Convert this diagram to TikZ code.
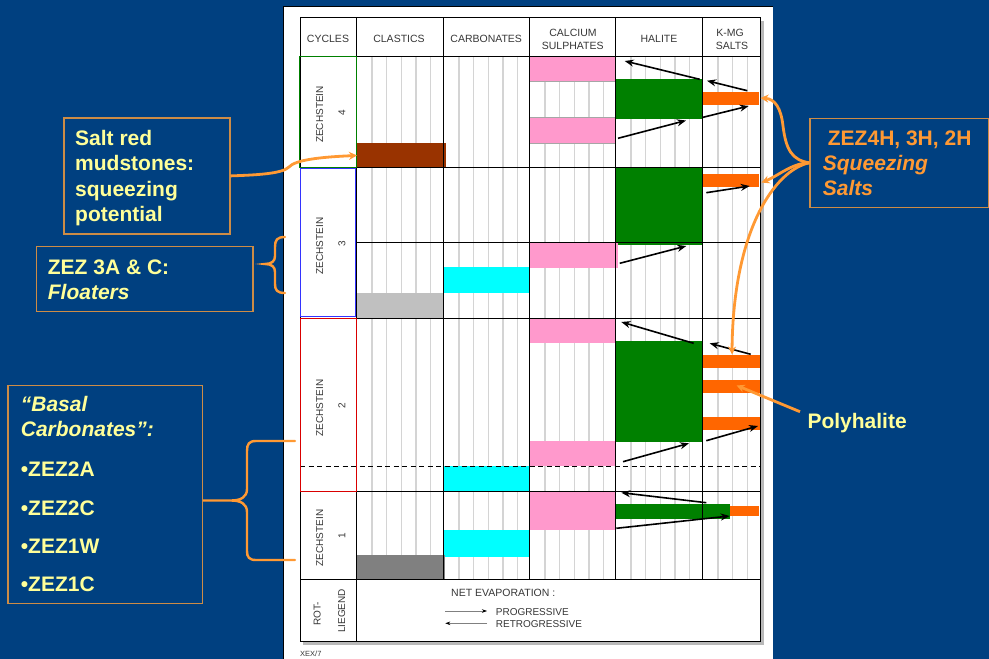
\documentclass[tikz,border=0pt]{standalone}
\usepackage{fontspec}
\setmainfont{Liberation Sans}
\usetikzlibrary{arrows.meta}

\definecolor{slide}{RGB}{0,64,128}
\definecolor{tabtext}{RGB}{55,55,55}
\definecolor{noteyellow}{RGB}{255,255,153}
\definecolor{noteedge}{RGB}{205,140,70}
\definecolor{calloutorange}{RGB}{255,153,51}
\definecolor{sulphpink}{RGB}{255,153,204}
\definecolor{halitegreen}{RGB}{0,128,0}
\definecolor{kmgorange}{RGB}{255,102,0}
\definecolor{mudbrown}{RGB}{153,51,0}
\definecolor{carbcyan}{RGB}{0,255,255}
\definecolor{clastlight}{RGB}{192,192,192}
\definecolor{clastdark}{RGB}{128,128,128}
\definecolor{gridgray}{RGB}{212,212,212}

\begin{document}
\begin{tikzpicture}[x=1pt,y=-1pt,
  tabline/.style={black,line width=0.9pt},
  gridline/.style={gridgray,line width=1.4pt},
  hdr/.style={font=\fontsize{10.5}{12}\selectfont,text=tabtext,inner sep=0pt,anchor=base},
  cyc/.style={font=\fontsize{10}{12}\selectfont,text=tabtext,inner sep=0pt,rotate=90},
  lgd/.style={font=\fontsize{10}{12}\selectfont,text=tabtext,inner sep=0pt,anchor=base west},
  notebox/.style={draw=noteedge,line width=1.2pt,inner sep=0pt,anchor=north west},
  notetxt/.style={font=\fontsize{21}{25}\selectfont\bfseries,text=noteyellow,inner sep=0pt,anchor=base west},
  squeezetxt/.style={font=\fontsize{21}{25}\selectfont\bfseries,text=calloutorange,inner sep=0pt,anchor=base west},
  evarrow/.style={black,line width=1.6pt,-{Stealth[length=9pt,width=7pt]}},
  lgarrow/.style={gray,line width=0.6pt,-{Stealth[length=5pt,width=3.5pt,black]}},
  callout/.style={calloutorange,line width=2.8pt,-{Stealth[length=8pt,width=8pt]}},
  brace/.style={calloutorange,line width=2.4pt,line cap=round}]

\useasboundingbox (0,0) rectangle (989,659);
\fill[slide] (0,0) rectangle (989,659);

% ---- the printed sheet ----
\fill[white] (283.3,6) rectangle (773.3,662);
\draw[black,line width=0.8pt] (283.3,662) -- (283.3,6) -- (773.3,6);

% table shadow and body
\fill[gray!55] (303,20.5) rectangle (763.5,644.5);
\fill[white] (300,17.3) rectangle (760,641);

% light vertical grid inside the data columns
\foreach \cl/\m in {356/5,443/5,529/5,615/5,702/3}
  \foreach \k in {1,...,\m}
    \draw[gridline] ({\cl+14.6*\k+1.5},56) -- ({\cl+14.6*\k+1.5},579);

% ---- lithology blocks ----
% Zechstein 4
\fill[sulphpink,draw=gray!70,line width=0.4pt] (529,56) rectangle (615,81);
\fill[sulphpink,draw=gray!70,line width=0.4pt] (529,117) rectangle (615,143);
\fill[halitegreen] (615,79) rectangle (702,119.3);
\fill[kmgorange] (702,92) rectangle (759,105.3);
\fill[mudbrown] (357,143) rectangle (445.5,167);
% Zechstein 3
\fill[halitegreen] (615,168) rectangle (703,245);
\fill[kmgorange] (702,174) rectangle (759,187.3);
\fill[sulphpink] (530,242) rectangle (618,268);
\fill[carbcyan] (444,267) rectangle (529,293.3);
\fill[clastlight] (356,293.3) rectangle (443,318);
% Zechstein 2
\fill[sulphpink] (529,318) rectangle (615,343.3);
\fill[halitegreen] (616.3,340.7) rectangle (702.3,442);
\fill[kmgorange] (702,355) rectangle (760,367.7);
\fill[kmgorange] (702,380) rectangle (760,393.3);
\fill[kmgorange] (702,417) rectangle (760,430);
\fill[sulphpink] (529,441) rectangle (616,466);
\fill[carbcyan] (444,466) rectangle (529,491.5);
% Zechstein 1
\fill[sulphpink] (529,491.7) rectangle (616,530);
\fill[halitegreen] (616.3,504) rectangle (729.7,519);
\fill[kmgorange] (729.7,506) rectangle (759,516);
\fill[carbcyan] (444,530) rectangle (529,556.7);
\fill[clastdark] (356,555) rectangle (445,579);

% ---- table ruling ----
\draw[tabline] (300,17.3) rectangle (760,641);
\draw[tabline] (300,56) -- (760,56);
\draw[tabline] (356,17.3) -- (356,641);
\foreach \x in {443,529,615,702} \draw[tabline] (\x,17.3) -- (\x,579);
\draw[tabline] (300,167.5) -- (760,167.5);
\draw[tabline] (356,242) -- (760,242);
\draw[tabline] (300,318) -- (760,318);
\draw[tabline] (300,491.5) -- (760,491.5);
\draw[tabline] (300,579) -- (760,579);
\draw[black,line width=1.5pt,dash pattern=on 5pt off 3.5pt] (300,466.7) -- (760,466.7);

% coloured frames of the cycle cells
\draw[halitegreen,line width=0.9pt] (299.5,56.5) rectangle (356,167);
\draw[blue!80,line width=0.9pt] (300,168.3) rectangle (355.5,316.7);
\draw[red!85!black,line width=0.9pt] (300,318.5) rectangle (356,491);

% ---- header ----
\node[hdr] (hcyc) at (328,42.3) {CYCLES};
\node[hdr] (hcla) at (399,42.3) {CLASTICS};
\node[hdr] (hcar) at (486.2,42.3) {CARBONATES};
\node[hdr] (hcal1) at (573,36) {CALCIUM};
\node[hdr] (hcal2) at (572.7,49) {SULPHATES};
\node[hdr] (hhal) at (659,42.3) {HALITE};
\node[hdr] (hkmg1) at (730,36) {K-MG};
\node[hdr] (hkmg2) at (732,49) {SALTS};

% ---- cycle labels ----
\node[cyc] (z4a) at (319.7,114.5) {ZECHSTEIN};
\node[cyc] (z4b) at (342,113) {4};
\node[cyc] (z3a) at (319.7,246) {ZECHSTEIN};
\node[cyc] (z3b) at (342,244) {3};
\node[cyc] (z2a) at (319.7,408) {ZECHSTEIN};
\node[cyc] (z2b) at (342,405.5) {2};
\node[cyc] (z1a) at (319.7,538) {ZECHSTEIN};
\node[cyc] (z1b) at (342,536) {1};
\node[cyc] (rl1) at (317.3,614) {ROT-};
\node[cyc] (rl2) at (341.7,611) {LIEGEND};

% ---- net evaporation arrows ----
\foreach \i/\xa/\ya/\xb/\yb in {
    1/699.7/79.3/624.7/61,
    2/747.3/90.7/707/80.7,
    3/618/138.3/686/120.5,
    4/703/117.3/748.7/106,
    5/706.3/192.7/749.7/186,
    6/619.7/263.3/686.3/246,
    7/693.7/343.3/621.3/322,
    8/750.7/354.3/709.7/343.3,
    9/706.3/440.7/758/426,
    10/623/461.7/689/443.3,
    11/706.3/502.7/621.3/492.7,
    12/616.3/528.3/729.7/516} {
  \coordinate (ev\i a) at (\xa,\ya);
  \coordinate (ev\i b) at (\xb,\yb);
  \draw[evarrow] (ev\i a) -- (ev\i b);
}

% ---- legend ----
\node[font=\fontsize{10.5}{12}\selectfont,text=tabtext,inner sep=0pt,anchor=base west] (netev) at (451,596.7) {NET EVAPORATION :};
\coordinate (lgpa) at (445.3,611);
\coordinate (lgpb) at (487,611);
\coordinate (lgra) at (487,623.3);
\coordinate (lgrb) at (445.3,623.3);
\draw[lgarrow] (lgpa) -- (lgpb);
\draw[lgarrow] (lgra) -- (lgrb);
\node[lgd] (lgprog) at (495.7,615) {PROGRESSIVE};
\node[lgd] (lgretro) at (495.7,627.7) {RETROGRESSIVE};
\node[font=\fontsize{7.5}{9}\selectfont,text=tabtext,inner sep=0pt,anchor=base west] (sheetref) at (300,656.5) {XEX/7};

% ---- notes on the left ----
\node[notebox,minimum width=166pt,minimum height=116pt] (saltbox) at (63.3,117.3) {};
\node[notetxt] (salt1) at (75,145) {Salt red};
\node[notetxt] (salt2) at (75,170.5) {mudstones:};
\node[notetxt] (salt3) at (75,196) {squeezing};
\node[notetxt] (salt4) at (75,221.5) {potential};

\node[notebox,minimum width=216.6pt,minimum height=65pt] (floatbox) at (35.7,246) {};
\node[notetxt] (float1) at (47.7,274.5) {ZEZ 3A \& C:};
\node[notetxt] (float2) at (47.7,299.5) {\itshape Floaters};

\node[notebox,minimum width=194.4pt,minimum height=217.7pt] (basalbox) at (7.3,385) {};
\node[notetxt] (basal1) at (20.7,411.7) {\itshape “Basal};
\node[notetxt] (basal2) at (20.7,436.7) {\itshape Carbonates”:};
\node[notetxt] (basal3) at (20.7,476) {•ZEZ2A};
\node[notetxt] (basal4) at (20.7,515) {•ZEZ2C};
\node[notetxt] (basal5) at (20.7,553.3) {•ZEZ1W};
\node[notetxt] (basal6) at (20.7,591.7) {•ZEZ1C};

% ---- notes on the right ----
\node[notebox,minimum width=179pt,minimum height=89pt] (squeezebox) at (809.3,117.7) {};
\node[squeezetxt] (sq1) at (827.7,145) {ZEZ4H, 3H, 2H};
\node[squeezetxt] (sq2) at (822.7,170) {\itshape Squeezing};
\node[squeezetxt] (sq3) at (822.7,195) {\itshape Salts};
\node[notetxt] (polylabel) at (807.3,428.3) {Polyhalite};

% ---- orange callouts ----
\coordinate (mudtip) at (357,155.5);
\draw[callout] (saltbox.east) .. controls (255,175) and (282,174) .. (289,167)
  .. controls (295,160) and (320,157) .. (mudtip);

\coordinate (z4salt) at (760.5,98);
\coordinate (z3salt) at (761.5,182.5);
\coordinate (z2salt) at (732,354.5);
\draw[callout] (squeezebox.west) .. controls (792,160) and (786,150) .. (783,126)
  .. controls (781,108) and (775,99) .. (z4salt);
\draw[callout] (squeezebox.west) .. controls (792,163) and (778,176) .. (z3salt);
\draw[callout] (squeezebox.west) .. controls (775,170) and (733,230) .. (z2salt);

\coordinate (polystart) at (800,411.7);
\coordinate (polytip) at (736.7,385.5);
\draw[callout] (polystart) -- (polytip);

% ---- braces ----
\coordinate (flTop) at (285,237);
\coordinate (flBot) at (285,293);
\draw[brace] (flTop) .. controls (277,237) and (275,240) .. (275,247) -- (275,256)
  .. controls (275,261) and (272,264) .. (265,264)
  .. controls (272,264) and (275,267) .. (275,272) -- (275,284)
  .. controls (275,290) and (277,293) .. (flBot);

\coordinate (bsTop) at (295,441);
\coordinate (bsBot) at (295,560);
\draw[brace] (bsTop) -- (256,441) .. controls (249,441) and (247,444) .. (247,451) -- (247,489)
  .. controls (247,497) and (241,500.5) .. (231,500.5) -- (basalbox.east |- 0,500.5)
  -- (231,500.5) .. controls (241,500.5) and (247,504) .. (247,512) -- (247,551)
  .. controls (247,557) and (249,560) .. (256,560) -- (bsBot);

\end{tikzpicture}
\end{document}
